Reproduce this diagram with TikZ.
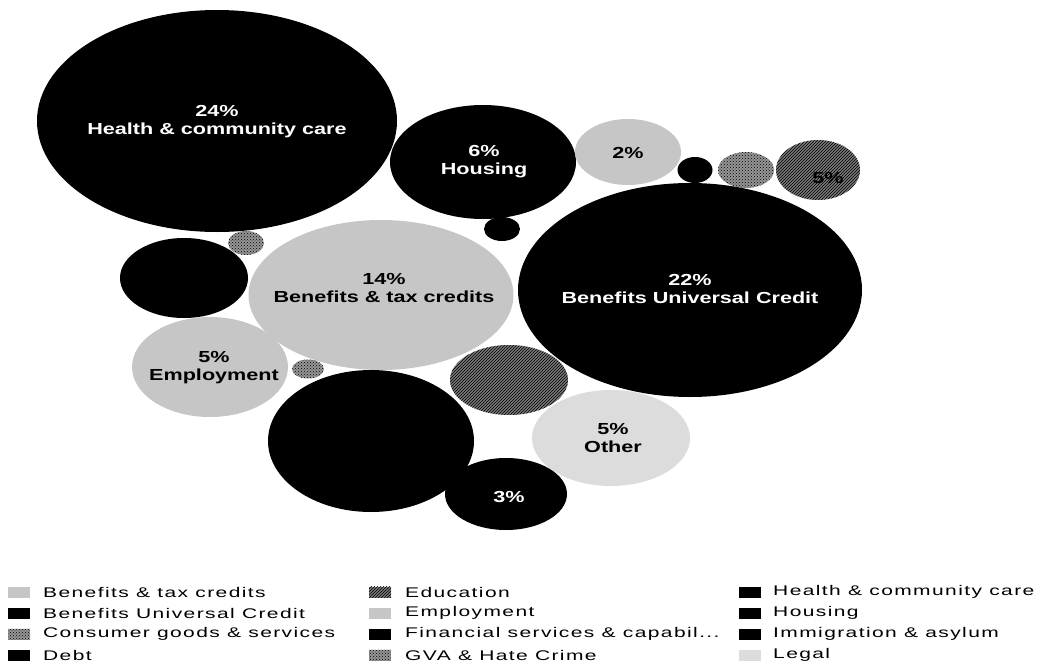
\documentclass[tikz,border=0pt]{standalone}
\usepackage{fontspec}
\usepackage{tikz}
\usetikzlibrary{shapes,patterns}
\newfontfamily\bubblefont[FakeStretch=1.35]{Liberation Sans}
\newfontfamily\legendfont[FakeStretch=1.5,LetterSpace=10]{Liberation Sans}
\definecolor{lightgrey}{RGB}{198, 198, 198}
\definecolor{palegrey}{RGB}{220, 220, 220}
\definecolor{midgrey}{RGB}{150, 150, 150}
\definecolor{hatchgrey}{RGB}{120, 120, 120}
\tikzstyle{bubble}=[ellipse,draw=none,inner sep=0pt]
\tikzstyle{darkbubble}=[bubble,fill=black]
\tikzstyle{lightbubble}=[bubble,fill=lightgrey]
\tikzstyle{palebubble}=[bubble,fill=palegrey]
\tikzstyle{specklebubble}=[bubble,fill=midgrey,postaction={pattern=crosshatch dots,pattern color=black}]
\tikzstyle{hatchbubble}=[bubble,fill=hatchgrey,postaction={pattern=north east lines,pattern color=black}]
\tikzstyle{bubbletext}=[align=center,inner sep=0pt,font={\bubblefont\bfseries\fontsize{16}{18}\selectfont}]
\tikzstyle{whitetext}=[bubbletext,white]
\tikzstyle{swatch}=[draw=none,minimum width=22pt,minimum height=11pt,inner sep=0pt]
\tikzstyle{legendtext}=[anchor=west,inner sep=0pt,font={\legendfont\fontsize{14}{16}\selectfont}]

\begin{document}
\begin{tikzpicture}[x=1pt,y=-1pt]
\useasboundingbox (0,0) rectangle (1050,664);
\clip (0,0) rectangle (1050,664);

% bubbles
\node[darkbubble,minimum width=360pt,minimum height=222pt] (health) at (217,121) {};
\node[darkbubble,minimum width=186pt,minimum height=114pt] (housing) at (483,162) {};
\node[lightbubble,minimum width=106pt,minimum height=66pt] (twopct) at (628,152) {};
\node[darkbubble,minimum width=35pt,minimum height=26pt] (dotA) at (695,170) {};
\node[specklebubble,minimum width=56pt,minimum height=36pt] (speckA) at (746,170) {};
\node[hatchbubble,minimum width=84pt,minimum height=60pt] (fivepct) at (818,170) {};
\node[darkbubble,minimum width=36pt,minimum height=24pt] (dotB) at (502,229) {};
\node[darkbubble,minimum width=344pt,minimum height=214pt] (credit) at (690,290) {};
\node[lightbubble,minimum width=265pt,minimum height=150pt] (benefits) at (381,295) {};
\node[specklebubble,minimum width=36pt,minimum height=24pt] (speckB) at (246,243) {};
\node[darkbubble,minimum width=128pt,minimum height=80pt] (debt) at (184,278) {};
\node[lightbubble,minimum width=156pt,minimum height=100pt] (employ) at (210,367) {};
\node[specklebubble,minimum width=32pt,minimum height=19pt] (speckC) at (308,369) {};
\node[darkbubble,minimum width=206pt,minimum height=142pt] (immig) at (371,441) {};
\node[hatchbubble,minimum width=118pt,minimum height=70pt] (edu) at (509,380) {};
\node[palebubble,minimum width=158pt,minimum height=96pt] (other) at (611,438) {};
\node[darkbubble,minimum width=122pt,minimum height=72pt] (threepct) at (506,494) {};

% bubble labels
\node[whitetext] (healthtext) at (217,122) {24\%\\Health \& community care};
\node[whitetext] (housingtext) at (484,162) {6\%\\Housing};
\node[bubbletext] (twopcttext) at (628,153) {2\%};
\node[bubbletext] (fivepcttext) at (828,178) {5\%};
\node[whitetext] (credittext) at (690,289) {22\%\\Benefits Universal Credit};
\node[bubbletext] (benefitstext) at (384,288) {14\%\\Benefits \& tax credits};
\node[bubbletext] (employtext) at (214,368) {5\%\\Employment};
\node[bubbletext] (othertext) at (613,438) {5\%\\Other};
\node[whitetext] (threepcttext) at (509,497) {3\%};

% legend
\node[swatch,fill=lightgrey] (sw1) at (19,592) {};
\node[legendtext] (lg1) at (43,592) {Benefits \& tax credits};
\node[swatch,fill=black] (sw2) at (19,613) {};
\node[legendtext] (lg2) at (43,613) {Benefits Universal Credit};
\node[swatch,fill=midgrey,postaction={pattern=crosshatch dots,pattern color=black}] (sw3) at (19,634) {};
\node[legendtext] (lg3) at (43,634) {Consumer goods \& services};
\node[swatch,fill=black] (sw4) at (19,655) {};
\node[legendtext] (lg4) at (43,655) {Debt};

\node[swatch,fill=hatchgrey,postaction={pattern=north east lines,pattern color=black}] (sw5) at (380,592) {};
\node[legendtext] (lg5) at (405,592) {Education};
\node[swatch,fill=lightgrey] (sw6) at (380,613) {};
\node[legendtext] (lg6) at (405,613) {Employment};
\node[swatch,fill=black] (sw7) at (380,634) {};
\node[legendtext] (lg7) at (405,634) {Financial services \& capabil...};
\node[swatch,fill=midgrey,postaction={pattern=crosshatch dots,pattern color=black}] (sw8) at (380,655) {};
\node[legendtext] (lg8) at (405,655) {GVA \& Hate Crime};

\node[swatch,fill=black] (sw9) at (750,592) {};
\node[legendtext] (lg9) at (773,592) {Health \& community care};
\node[swatch,fill=black] (sw10) at (750,613) {};
\node[legendtext] (lg10) at (773,613) {Housing};
\node[swatch,fill=black] (sw11) at (750,634) {};
\node[legendtext] (lg11) at (773,634) {Immigration \& asylum};
\node[swatch,fill=palegrey] (sw12) at (750,655) {};
\node[legendtext] (lg12) at (773,655) {Legal};

\end{tikzpicture}
\end{document}
